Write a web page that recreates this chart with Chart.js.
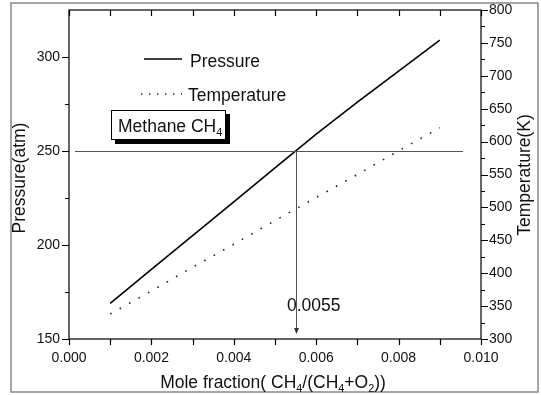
<!DOCTYPE html>
<html>
<head>
<meta charset="utf-8">
<script src="https://cdn.jsdelivr.net/npm/chart.js@4.4.1/dist/chart.umd.min.js"></script>
<style>
  html, body { margin: 0; padding: 0; background: #fff; }
  #wrap { width: 541px; height: 395px; }
</style>
</head>
<body>
<div id="wrap"><canvas id="chart" width="541" height="395"></canvas></div>
<script>
// data
const moleFraction = [0.001, 0.002, 0.003, 0.004, 0.005, 0.006, 0.007, 0.008, 0.009];
const pressure = [169, 187, 205, 223, 241, 259, 276, 292.5, 309];
const temperature = [338, 373, 409, 444, 480, 515, 550, 586, 621];

const xTicks = [0, 0.002, 0.004, 0.006, 0.008, 0.010];
const pressureTicks = [150, 200, 250, 300];
const temperatureTicks = [300, 350, 400, 450, 500, 550, 600, 650, 700, 750, 800];

const markFraction = 0.0055;
const markPressure = 250;
const markLabel = '0.0055';

const FONT = '"Liberation Sans", Arial, sans-serif';

function toPoints(xs, ys) {
    return xs.map((x, i) => ({ x: x, y: ys[i] }));
}

// draws text with subscript pieces, returns width
function richText(ctx, parts, x, y, size, measureOnly) {
    let w = 0;
    parts.forEach(p => {
        const s = p.sub ? size * 0.62 : size;
        ctx.font = s + 'px ' + FONT;
        if (!measureOnly) ctx.fillText(p.t, x + w, p.sub ? y + size * 0.22 : y);
        w += ctx.measureText(p.t).width;
    });
    return w;
}

const decorations = {
    id: 'decorations',
    afterDraw(chart) {
        const ctx = chart.ctx;
        const a = chart.chartArea;
        const xs = chart.scales.x, ys = chart.scales.y, ts = chart.scales.y1;
        ctx.save();

        // outer frame
        ctx.strokeStyle = '#888';
        ctx.lineWidth = 1.5;
        ctx.strokeRect(11, 3, 527, 389);

        // plot box
        ctx.strokeStyle = '#000';
        ctx.lineWidth = 1.2;
        ctx.strokeRect(a.left, a.top, a.right - a.left, a.bottom - a.top);

        // tick marks
        ctx.lineWidth = 1.2;
        ctx.beginPath();
        for (let v = 0; v <= 0.0100001; v += 0.001) {
            const px = Math.round(xs.getPixelForValue(v)) + 0.5;
            ctx.moveTo(px, a.bottom); ctx.lineTo(px, a.bottom + 6);
            ctx.moveTo(px, a.top); ctx.lineTo(px, a.top + 6);
        }
        for (let v = 150; v <= 300; v += 25) {
            const py = Math.round(ys.getPixelForValue(v)) + 0.5;
            const len = v % 50 === 0 ? 7 : 4;
            ctx.moveTo(a.left, py); ctx.lineTo(a.left - len, py);
        }
        for (let v = 300; v <= 800; v += 25) {
            const py = Math.round(ts.getPixelForValue(v)) + 0.5;
            const len = v % 50 === 0 ? 7 : 4;
            ctx.moveTo(a.right, py); ctx.lineTo(a.right + len, py);
        }
        ctx.stroke();

        // 250 atm reference line and arrow down at 0.0055
        const hy = Math.round(ys.getPixelForValue(markPressure)) + 0.5;
        const vx = Math.round(xs.getPixelForValue(markFraction)) + 0.5;
        ctx.strokeStyle = '#555';
        ctx.lineWidth = 1;
        ctx.beginPath();
        ctx.moveTo(a.left + 6, hy); ctx.lineTo(a.right - 18, hy);
        ctx.moveTo(vx, hy); ctx.lineTo(vx, a.bottom - 8);
        ctx.stroke();
        ctx.fillStyle = '#333';
        ctx.beginPath();
        ctx.moveTo(vx - 2.5, a.bottom - 11);
        ctx.lineTo(vx + 2.5, a.bottom - 11);
        ctx.lineTo(vx, a.bottom - 5);
        ctx.closePath();
        ctx.fill();

        ctx.fillStyle = '#111';
        ctx.textBaseline = 'alphabetic';
        ctx.textAlign = 'left';
        ctx.font = '17.5px ' + FONT;
        ctx.fillText(markLabel, 287, 311);

        // legend
        const ds = chart.data.datasets;
        ctx.strokeStyle = '#000';
        ctx.lineWidth = 1.5;
        ctx.setLineDash([]);
        ctx.beginPath(); ctx.moveTo(144, 59); ctx.lineTo(182, 59); ctx.stroke();
        ctx.setLineDash([1.5, 6.5]);
        ctx.strokeStyle = '#333';
        ctx.beginPath(); ctx.moveTo(141, 94); ctx.lineTo(182, 94); ctx.stroke();
        ctx.setLineDash([]);
        ctx.fillText(ds[0].label, 190, 67);
        ctx.fillText(ds[1].label, 188, 101);

        // Methane box with shadow
        ctx.fillStyle = '#000';
        ctx.fillRect(115, 114, 115, 30);
        ctx.fillStyle = '#fff';
        ctx.fillRect(111, 110, 115, 30);
        ctx.strokeStyle = '#000';
        ctx.lineWidth = 1;
        ctx.strokeRect(111.5, 110.5, 114, 29);
        ctx.fillStyle = '#111';
        richText(ctx, [{ t: 'Methane CH' }, { t: '4', sub: true }], 118, 132, 17.5);

        // axis titles
        const xTitle = [{ t: 'Mole fraction( CH' }, { t: '4', sub: true }, { t: '/(CH' }, { t: '4', sub: true },
            { t: '+O' }, { t: '2', sub: true }, { t: '))' }];
        const tw = richText(ctx, xTitle, 0, 0, 17.5, true);
        richText(ctx, xTitle, 273 - tw / 2, 388, 17.5);

        ctx.font = '17.5px ' + FONT;
        ctx.textAlign = 'center';
        ctx.textBaseline = 'middle';
        ctx.save();
        ctx.translate(20, 178);
        ctx.rotate(-Math.PI / 2);
        ctx.fillText('Pressure(atm)', 0, 0);
        ctx.restore();
        ctx.save();
        ctx.translate(525, 175);
        ctx.rotate(-Math.PI / 2);
        ctx.fillText('Temperature(K)', 0, 0);
        ctx.restore();

        ctx.restore();
    }
};

const tickFont = { family: FONT, size: 14 };

function fixVertical(width) {
    return s => {
        s.width = width;
        s.paddingTop = 0;
        s.paddingBottom = 0;
    };
}

new Chart(document.getElementById('chart'), {
    type: 'scatter',
    data: {
        datasets: [{
            label: 'Pressure',
            data: toPoints(moleFraction, pressure),
            showLine: true,
            borderColor: '#000',
            borderWidth: 1.6,
            pointRadius: 0,
            yAxisID: 'y'
        }, {
            label: 'Temperature',
            data: toPoints(moleFraction, temperature),
            showLine: true,
            borderColor: '#222',
            borderWidth: 1.6,
            borderDash: [1.6, 9.2],
            pointRadius: 0,
            yAxisID: 'y1'
        }]
    },
    options: {
        responsive: false,
        animation: false,
        layout: { padding: { top: 10, left: 0, right: 0, bottom: 0 } },
        plugins: { legend: { display: false }, tooltip: { enabled: false } },
        scales: {
            x: {
                type: 'linear',
                position: 'bottom',
                min: 0, max: 0.01,
                afterBuildTicks: s => { s.ticks = xTicks.map(v => ({ value: v })); },
                afterFit: s => { s.height = 56; s.paddingLeft = 0; s.paddingRight = 0; },
                grid: { display: false, drawTicks: false },
                border: { display: false },
                ticks: { font: tickFont, color: '#111', padding: 11, maxRotation: 0,
                    callback: v => Number(v).toFixed(3) }
            },
            y: {
                type: 'linear',
                position: 'left',
                min: 150, max: 325,
                afterBuildTicks: s => { s.ticks = pressureTicks.map(v => ({ value: v })); },
                afterFit: fixVertical(69),
                grid: { display: false, drawTicks: false },
                border: { display: false },
                ticks: { font: tickFont, color: '#111', padding: 9 }
            },
            y1: {
                type: 'linear',
                position: 'right',
                min: 300, max: 800,
                afterBuildTicks: s => { s.ticks = temperatureTicks.map(v => ({ value: v })); },
                afterFit: fixVertical(60),
                grid: { display: false, drawTicks: false },
                border: { display: false },
                ticks: { font: tickFont, color: '#111', padding: 8 }
            }
        }
    },
    plugins: [decorations]
});
</script>
</body>
</html>
